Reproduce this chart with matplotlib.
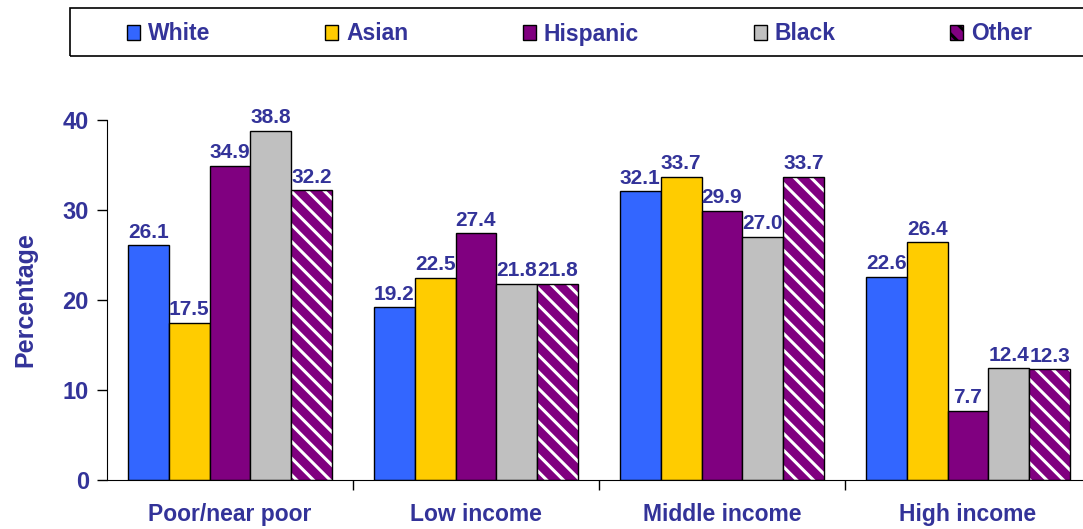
import matplotlib
matplotlib.use('Agg')
import matplotlib.pyplot as plt
import numpy as np
from matplotlib.patches import Patch, Rectangle

# データ
categories = ['Poor/near poor', 'Low income', 'Middle income', 'High income']
groups = ['White', 'Asian', 'Hispanic', 'Black', 'Other']
values = {
    'White':    [26.1, 19.2, 32.1, 22.6],
    'Asian':    [17.5, 22.5, 33.7, 26.4],
    'Hispanic': [34.9, 27.4, 29.9, 7.7],
    'Black':    [38.8, 21.8, 27.0, 12.4],
    'Other':    [32.2, 21.8, 33.7, 12.3],
}
colors = {
    'White': '#3366FF',
    'Asian': '#FFCC00',
    'Hispanic': '#800080',
    'Black': '#C0C0C0',
    'Other': '#800080',
}
text_color = '#333399'

plt.rcParams['font.family'] = ['Liberation Sans', 'DejaVu Sans']
plt.rcParams['font.weight'] = 'bold'
plt.rcParams['hatch.linewidth'] = 2.2

fig = plt.figure(figsize=(10.83, 5.29), dpi=100)
ax = fig.add_axes([107 / 1083, 49 / 529, 984 / 1083, 360 / 529])

x = np.arange(len(categories))
width = 0.166

for k, g in enumerate(groups):
    pos = x + (k - 2) * width
    if g == 'Other':
        # 斜線の色を白にするため塗りと枠を分けて描く
        ax.bar(pos, values[g], width, color=colors[g], edgecolor='white',
               hatch='\\\\', linewidth=0)
        ax.bar(pos, values[g], width, fill=False, edgecolor='black', linewidth=1)
    else:
        ax.bar(pos, values[g], width, color=colors[g], edgecolor='black', linewidth=1)
    for p, v in zip(pos, values[g]):
        ax.text(p, v + 0.4, f'{v:.1f}', ha='center', va='bottom',
                color=text_color, fontsize=15, fontweight='bold')

ax.set_xlim(-0.5, 3.5)
ax.set_ylim(0, 40)
ax.set_yticks([0, 10, 20, 30, 40])
ax.tick_params(axis='y', labelsize=17, labelcolor=text_color, length=7, width=1, pad=6)

# カテゴリの境目に目盛りを置く
ax.set_xticks(np.arange(0.5, 3.5, 1.0))
ax.set_xticklabels([])
ax.tick_params(axis='x', length=7, width=1)
for i, c in enumerate(categories):
    ax.text(i, -3.85, c, ha='center', va='center', color=text_color,
            fontsize=16.5, fontweight='bold')

ax.spines['top'].set_visible(False)
ax.spines['right'].set_visible(False)
ax.set_ylabel('Percentage', fontsize=18, color=text_color, fontweight='bold', labelpad=18)

# 凡例
handles = []
for g in groups:
    if g == 'Other':
        handles.append(Patch(facecolor=colors[g], edgecolor='black', hatch='\\\\'))
    else:
        handles.append(Patch(facecolor=colors[g], edgecolor='black'))
leg = fig.legend(handles, groups, loc='center left', bbox_to_anchor=(127 / 1083, 1 - 34 / 529),
                 ncol=5, frameon=False, fontsize=16.5, handlelength=0.57, handleheight=0.65,
                 handletextpad=0.35, columnspacing=5.0, borderpad=0, borderaxespad=0)
for t in leg.get_texts():
    t.set_color(text_color)
    t.set_fontweight('bold')

fig.patches.append(Rectangle((70 / 1083, 1 - 56 / 529), 1100 / 1083, 48 / 529,
                             transform=fig.transFigure, fill=False,
                             edgecolor='black', linewidth=1.2))

fig.savefig('out.png', dpi=100)
